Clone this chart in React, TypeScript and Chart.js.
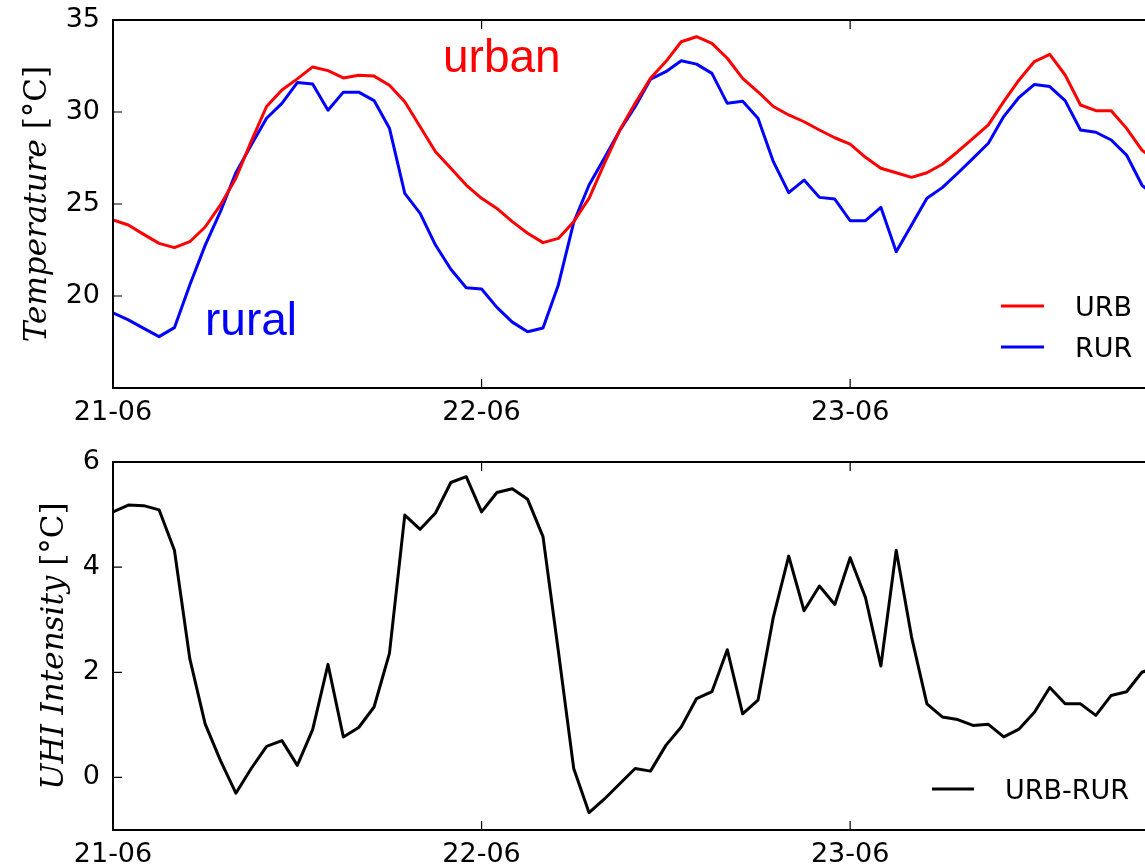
import React, { useEffect, useRef } from 'react';
import { Chart, registerables } from 'chart.js';
Chart.register(...registerables);

// Hours since 21-06 00:00
const hours = [
  0, 1, 2, 3, 4, 5, 6, 7, 8, 9, 10, 11, 12, 13, 14, 15, 16, 17, 18, 19, 20, 21, 22, 23,
  24, 25, 26, 27, 28, 29, 30, 31, 32, 33, 34, 35, 36, 37, 38, 39, 40, 41, 42, 43, 44, 45, 46, 47,
  48, 49, 50, 51, 52, 53, 54, 55, 56, 57, 58, 59, 60, 61, 62, 63, 64, 65, 66, 67, 68,
];

const urban = [
  24.13, 23.86, 23.35, 22.86, 22.63, 22.95, 23.75, 24.95, 26.4, 28.4, 30.3, 31.2, 31.8, 32.45, 32.25, 31.85, 32.0, 31.95, 31.45, 30.56, 29.2, 27.84, 26.94, 26.03,
  25.31, 24.76, 24.04, 23.41, 22.9, 23.13, 24.04, 25.31, 27.21, 29.02, 30.47, 31.83, 32.74, 33.82, 34.09, 33.73, 32.92, 31.83, 31.1, 30.3, 29.84, 29.47, 29.02, 28.6,
  28.26, 27.54, 26.94, 26.7, 26.45, 26.7, 27.16, 27.84, 28.57, 29.3, 30.56, 31.74, 32.74, 33.13, 32.01, 30.38, 30.07, 30.07, 29.11, 27.93, 27.3,
];

const rural = [
  19.09, 18.7, 18.24, 17.79, 18.28, 20.6, 22.75, 24.6, 26.7, 28.2, 29.66, 30.47, 31.6, 31.52, 30.1, 31.08, 31.08, 30.62, 29.12, 25.58, 24.49, 22.77, 21.45, 20.45,
  20.38, 19.38, 18.58, 18.06, 18.26, 20.6, 24.0, 26.03, 27.5, 29.0, 30.29, 31.78, 32.19, 32.79, 32.6, 32.1, 30.47, 30.58, 29.66, 27.3, 25.62, 26.3, 25.36, 25.27,
  24.09, 24.09, 24.82, 22.41, 23.86, 25.31, 25.89, 26.67, 27.48, 28.3, 29.75, 30.8, 31.5, 31.38, 30.62, 29.02, 28.9, 28.48, 27.66, 26.03, 25.3,
];

const uhi = [
  5.05, 5.18, 5.17, 5.09, 4.32, 2.26, 1.02, 0.32, -0.3, 0.17, 0.59, 0.7, 0.23, 0.91, 2.15, 0.77, 0.95, 1.34, 2.36, 4.99, 4.72, 5.03, 5.61, 5.72,
  5.05, 5.42, 5.49, 5.29, 4.58, 2.4, 0.17, -0.67, -0.41, -0.12, 0.17, 0.12, 0.61, 0.96, 1.5, 1.63, 2.43, 1.21, 1.47, 3.05, 4.21, 3.17, 3.64, 3.29,
  4.18, 3.42, 2.12, 4.32, 2.67, 1.4, 1.15, 1.1, 0.99, 1.01, 0.77, 0.92, 1.24, 1.71, 1.4, 1.4, 1.18, 1.56, 1.63, 2.0, 2.1,
];

const dayTicks = [0, 24, 48];
const dayLabels = ['21-06', '22-06', '23-06'];
const tempTicks = [20, 25, 30, 35];
const uhiTicks = [0, 2, 4, 6];

const TICK_FONT = { family: "'DejaVu Sans'", size: 27 };

type Part = { text: string; italic: boolean };
type PanelCfg = {
  series: { label: string; data: number[]; color: string }[];
  yMin: number;
  yMax: number;
  yTicks: number[];
  padTop: number;
  xAxisHeight: number;
  title: Part[];
  titleX: number;
  legendLineX: [number, number];
  legendTextX: number;
  legendY: number[];
  notes: { text: string; color: string; x: number; y: number }[];
};

function makeConfig(cfg: PanelCfg): any {
  const overlay = {
    id: 'overlay',
    afterDraw(chart: any) {
      const { ctx, chartArea: a, scales } = chart;
      const xs = scales.x;
      const ys = scales.y;
      ctx.save();
      // inward tick marks
      ctx.strokeStyle = '#000';
      ctx.lineWidth = 1.2;
      ctx.beginPath();
      const L = 9;
      ys.ticks.forEach((t: any) => {
        const py = ys.getPixelForValue(t.value);
        ctx.moveTo(a.left, py);
        ctx.lineTo(a.left + L, py);
        ctx.moveTo(a.right, py);
        ctx.lineTo(a.right - L, py);
      });
      xs.ticks.forEach((t: any) => {
        const px = xs.getPixelForValue(t.value);
        ctx.moveTo(px, a.bottom);
        ctx.lineTo(px, a.bottom - L);
        ctx.moveTo(px, a.top);
        ctx.lineTo(px, a.top + L);
      });
      ctx.stroke();
      // frame
      ctx.lineWidth = 2;
      ctx.strokeRect(a.left, a.top, a.right - a.left, a.bottom - a.top);

      // y title
      const size = 31;
      const fontOf = (p: Part) => `${p.italic ? 'italic ' : ''}${size}px 'DejaVu Serif'`;
      let total = 0;
      cfg.title.forEach((p) => {
        ctx.font = fontOf(p);
        total += ctx.measureText(p.text).width;
      });
      ctx.save();
      ctx.translate(cfg.titleX, (a.top + a.bottom) / 2);
      ctx.rotate(-Math.PI / 2);
      ctx.fillStyle = '#000';
      ctx.textBaseline = 'middle';
      ctx.textAlign = 'left';
      let cx = -total / 2;
      cfg.title.forEach((p) => {
        ctx.font = fontOf(p);
        ctx.fillText(p.text, cx, 0);
        cx += ctx.measureText(p.text).width;
      });
      ctx.restore();

      // legend
      ctx.lineWidth = 3;
      ctx.font = "27px 'DejaVu Sans'";
      ctx.textAlign = 'left';
      ctx.textBaseline = 'alphabetic';
      cfg.series.forEach((s, i) => {
        const ly = cfg.legendY[i];
        ctx.strokeStyle = s.color;
        ctx.beginPath();
        ctx.moveTo(cfg.legendLineX[0], ly);
        ctx.lineTo(cfg.legendLineX[1], ly);
        ctx.stroke();
        ctx.fillStyle = '#000';
        ctx.fillText(s.label, cfg.legendTextX, ly + 10);
      });

      // annotations
      ctx.font = "46px 'Liberation Sans'";
      cfg.notes.forEach((n) => {
        ctx.fillStyle = n.color;
        ctx.fillText(n.text, n.x, n.y);
      });
      ctx.restore();
    },
  };

  return {
    type: 'line',
    data: {
      datasets: cfg.series.map((s) => ({
        label: s.label,
        data: hours.map((h, i) => ({ x: h, y: s.data[i] })),
        borderColor: s.color,
        backgroundColor: s.color,
        borderWidth: 3,
        pointRadius: 0,
        tension: 0,
        fill: false,
        borderJoinStyle: 'round',
      })),
    },
    options: {
      animation: false,
      responsive: false,
      devicePixelRatio: 1,
      layout: { padding: { top: cfg.padTop, right: 12, left: 0, bottom: 0 } },
      plugins: { legend: { display: false }, tooltip: { enabled: false } },
      scales: {
        x: {
          type: 'linear',
          min: 0,
          max: 70,
          grid: { display: false, drawTicks: false },
          border: { display: false },
          ticks: {
            padding: 9,
            font: TICK_FONT,
            color: '#000',
            maxRotation: 0,
            autoSkip: false,
            includeBounds: false,
            callback: (v: number) => {
              const i = dayTicks.indexOf(v);
              return i >= 0 ? dayLabels[i] : '';
            },
          },
          afterBuildTicks: (s: any) => {
            s.ticks = dayTicks.map((v) => ({ value: v }));
          },
          afterFit: (s: any) => {
            s.height = cfg.xAxisHeight;
            s.paddingLeft = 0;
            s.paddingRight = 0;
          },
        },
        y: {
          type: 'linear',
          min: cfg.yMin,
          max: cfg.yMax,
          grid: { display: false, drawTicks: false },
          border: { display: false },
          ticks: {
            padding: 13,
            font: TICK_FONT,
            color: '#000',
            callback: (v: number) => String(v),
          },
          afterBuildTicks: (s: any) => {
            s.ticks = cfg.yTicks.map((v) => ({ value: v }));
          },
          afterFit: (s: any) => {
            s.width = 113;
            s.paddingTop = 0;
            s.paddingBottom = 0;
          },
        },
      },
    },
    plugins: [overlay],
  };
}

const topCfg: PanelCfg = {
  series: [
    { label: 'URB', data: urban, color: '#ff0000' },
    { label: 'RUR', data: rural, color: '#0000ff' },
  ],
  yMin: 15,
  yMax: 35,
  yTicks: tempTicks,
  padTop: 20,
  xAxisHeight: 42,
  title: [
    { text: 'Temperature', italic: true },
    { text: ' [°C]', italic: false },
  ],
  titleX: 38,
  legendLineX: [1001, 1044],
  legendTextX: 1075,
  legendY: [306, 347],
  notes: [
    { text: 'urban', color: '#ff0000', x: 443, y: 72 },
    { text: 'rural', color: '#0000ff', x: 205, y: 335 },
  ],
};

const botCfg: PanelCfg = {
  series: [{ label: 'URB-RUR', data: uhi, color: '#000000' }],
  yMin: -1,
  yMax: 6,
  yTicks: uhiTicks,
  padTop: 32,
  xAxisHeight: 35,
  title: [
    { text: 'UHI Intensity', italic: true },
    { text: ' [°C]', italic: false },
  ],
  titleX: 55,
  legendLineX: [932, 974],
  legendTextX: 1005,
  legendY: [359],
  notes: [],
};

export default function App() {
  const topRef = useRef<HTMLCanvasElement>(null);
  const botRef = useRef<HTMLCanvasElement>(null);
  useEffect(() => {
    const c1 = new Chart(topRef.current as HTMLCanvasElement, makeConfig(topCfg));
    const c2 = new Chart(botRef.current as HTMLCanvasElement, makeConfig(botCfg));
    return () => {
      c1.destroy();
      c2.destroy();
    };
  }, []);
  return (
    <div
      style={{
        position: 'absolute',
        left: 0,
        top: 0,
        width: 1145,
        height: 865,
        overflow: 'hidden',
        background: '#fff',
      }}
    >
      <canvas ref={topRef} width={1200} height={430} style={{ position: 'absolute', left: 0, top: 0 }} />
      <canvas ref={botRef} width={1200} height={435} style={{ position: 'absolute', left: 0, top: 430 }} />
    </div>
  );
}
